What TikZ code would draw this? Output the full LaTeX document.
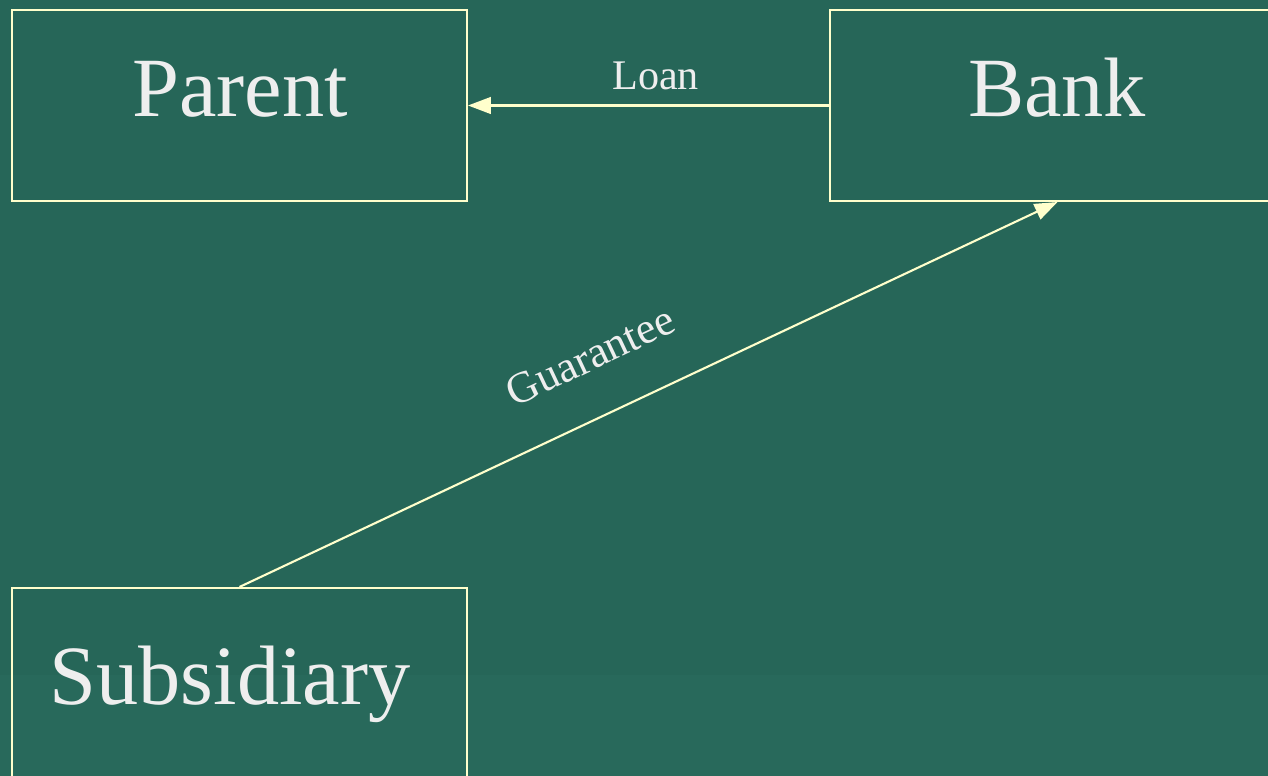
\documentclass[tikz,border=0pt]{standalone}
\usepackage{fontspec}
\setmainfont{Liberation Serif}
\usetikzlibrary{arrows.meta}

\definecolor{boardgreen}{HTML}{266658}
\definecolor{bandgreen}{HTML}{28695B}
\definecolor{paleyellow}{HTML}{FFFFCC}
\definecolor{chalk}{HTML}{EEEEEE}

\tikzset{
  party/.style={draw=paleyellow, line width=1.2pt,
    minimum width=9.1cm, minimum height=3.82cm},
  partyname/.style={text=chalk, inner sep=0pt, anchor=base,
    font=\fontsize{48}{48}\selectfont},
  deal/.style={draw=paleyellow, line width=1.2pt,
    -{Triangle[length=13pt,width=9.5pt]}},
  dealtext/.style={text=chalk, inner sep=0pt, font=\fontsize{24}{24}\selectfont}
}

\begin{document}
\begin{tikzpicture}[x=0.02cm, y=-0.02cm]
\useasboundingbox (0,0) rectangle (1268,776);
\clip (0,0) rectangle (1268,776);
\fill[boardgreen] (0,0) rectangle (1268,776);
\fill[bandgreen] (0,675) rectangle (1268,776); % lower band
% the three parties
\node[party] (parent) at (239.5,105.5) {};
\node[party] (bank) at (1057.5,105.5) {};
\node[party] (subsidiary) at (239.5,683.5) {};
\node[partyname] (parentname) at (240,117) {Parent};
\node[partyname] (bankname) at (1057,117) {Bank};
\node[partyname] (subsidiaryname) at (230,704) {Subsidiary};
% loan and guarantee
\draw[deal] (bank.west) -- node[dealtext, pos=0.48, above=8pt] (loan) {Loan} (parent.east);
\draw[deal] (subsidiary.north) -- node[dealtext, font=\fontsize{25}{25}\selectfont,
  sloped, pos=0.46, above=25pt] (guarantee) {Guarantee} (bank.south);
\end{tikzpicture}
\end{document}
